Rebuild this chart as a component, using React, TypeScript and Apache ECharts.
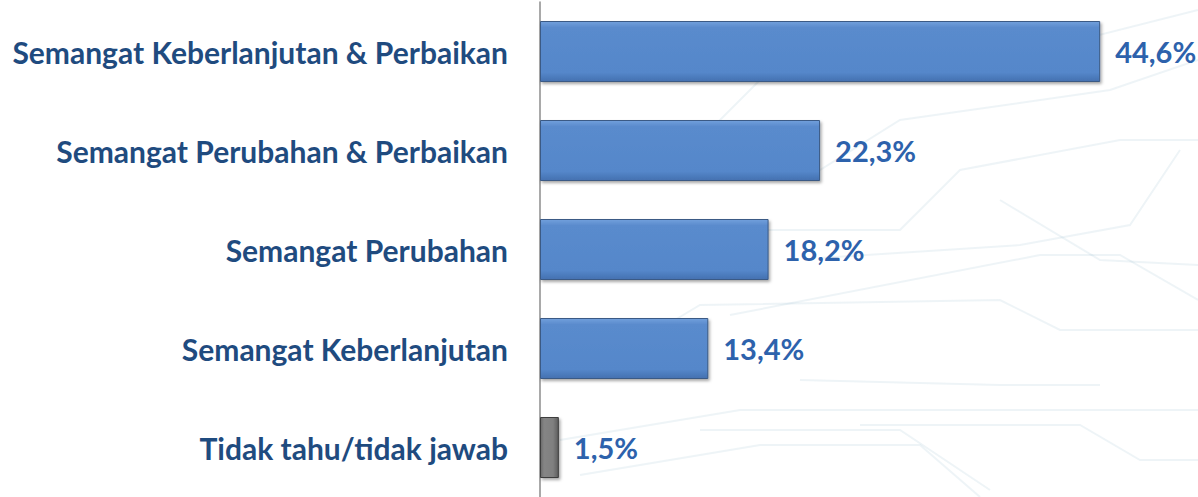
import React, { useEffect, useRef } from "react";
import * as echarts from "echarts";

const categories = [
  "Semangat Keberlanjutan & Perbaikan",
  "Semangat Perubahan & Perbaikan",
  "Semangat Perubahan",
  "Semangat Keberlanjutan",
  "Tidak tahu/tidak jawab",
];
const values = [44.6, 22.3, 18.2, 13.4, 1.5];
const valueLabels = ["44,6%", "22,3%", "18,2%", "13,4%", "1,5%"];
const isGrey = [false, false, false, false, true];

const blueFill = new echarts.graphic.LinearGradient(0, 0, 0, 1, [
  { offset: 0, color: "#72A0DC" },
  { offset: 0.1, color: "#5A8BCD" },
  { offset: 0.85, color: "#5587CA" },
  { offset: 1, color: "#4471B0" },
]);
const greyFill = new echarts.graphic.LinearGradient(1, 0, 0, 0, [
  { offset: 0, color: "#5E5E5E" },
  { offset: 0.3, color: "#808080" },
  { offset: 0.8, color: "#858585" },
  { offset: 1, color: "#6A6A6A" },
]);

const bgLines: number[][][] = [
  [[560, 140], [700, 140], [760, 80], [1000, 60], [1198, 10]],
  [[700, 170], [820, 170], [900, 120], [1110, 90], [1198, 60]],
  [[760, 230], [900, 230], [960, 170], [1120, 140], [1198, 140]],
  [[820, 258], [1020, 245], [1130, 225], [1180, 150]],
  [[730, 315], [1040, 255], [1120, 255], [1198, 300]],
  [[600, 365], [700, 305], [1000, 300], [1060, 330], [1198, 330]],
  [[560, 440], [740, 410], [1060, 410], [1198, 410]],
  [[700, 430], [900, 430], [990, 490]],
  [[580, 475], [760, 445], [920, 445], [980, 497]],
  [[860, 425], [1080, 425], [1140, 460], [1198, 460]],
  [[800, 380], [1000, 385], [1100, 385]],
  [[1000, 200], [1100, 260], [1198, 265]],
];

export default function App() {
  const ref = useRef<HTMLDivElement>(null);
  useEffect(() => {
    if (!ref.current) return;
    const chart = echarts.init(ref.current, null, { renderer: "svg" });
    const graphics: any[] = bgLines.map((pts) => ({
      type: "polyline",
      z: -10,
      silent: true,
      shape: { points: pts },
      style: { stroke: "rgba(150,185,205,0.16)", lineWidth: 2, fill: null },
    }));
    chart.setOption({
      animation: false,
      backgroundColor: "#ffffff",
      graphic: graphics,
      grid: { left: 540, right: 30, top: 2, height: 498 },
      xAxis: {
        type: "value",
        min: 0,
        max: 50,
        show: false,
      },
      yAxis: {
        type: "category",
        data: categories,
        inverse: true,
        axisTick: { show: false },
        axisLine: { show: true, lineStyle: { color: "#8C8C8C", width: 1.5 } },
        axisLabel: {
          margin: 32,
          color: "#1F4B7F",
          fontFamily: "Lato",
          fontWeight: "bold",
          fontSize: 30,
        },
      },
      series: [
        {
          type: "bar",
          barWidth: 61,
          data: values.map((v, i) => ({
            value: v,
            itemStyle: isGrey[i]
              ? { color: greyFill, borderColor: "#3C3C3C", borderWidth: 1 }
              : { color: blueFill, borderColor: "#3A5A85", borderWidth: 1 },
          })),
          itemStyle: {
            shadowColor: "rgba(0,0,0,0.35)",
            shadowBlur: 3,
            shadowOffsetX: 1.5,
            shadowOffsetY: 2,
          },
          label: {
            show: true,
            position: "right",
            distance: 15,
            color: "#2D62AC",
            fontFamily: "Lato",
            fontWeight: "bold",
            fontSize: 29,
            formatter: (p: any) => valueLabels[p.dataIndex],
          },
        },
      ],
    });
    return () => chart.dispose();
  }, []);
  return (
    <div
      ref={ref}
      style={{ position: "fixed", left: 0, top: 0, width: 1198, height: 497 }}
    />
  );
}
